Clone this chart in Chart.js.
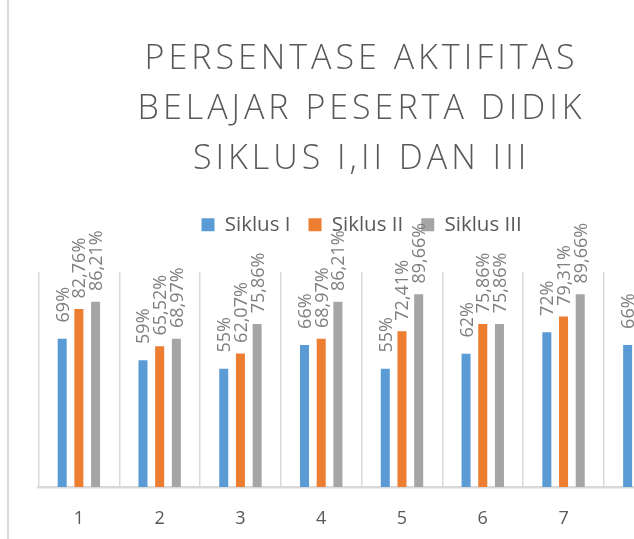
<!DOCTYPE html>
<html>
<head>
<meta charset="utf-8">
<title>Persentase Aktifitas Belajar Peserta Didik</title>
<script src="https://cdn.jsdelivr.net/npm/chart.js@4.4.1/dist/chart.umd.min.js"></script>
<style>
  html, body { margin: 0; padding: 0; background: #fff; overflow: hidden; }
  #frame { position: absolute; left: 7px; top: 0; width: 700px; height: 560px; border-left: 2px solid #d9d9d9; }
</style>
</head>
<body>
<div id="frame"><canvas id="chart" width="700" height="560"></canvas></div>
<script>
// Data
const categories = ["1", "2", "3", "4", "5", "6", "7", "8"];
const siklusI = [69, 59, 55, 66, 55, 62, 72, 66];
// cycle 8 for II and III falls outside the visible crop
const siklusII = [82.76, 65.52, 62.07, 68.97, 72.41, 75.86, 79.31, null];
const siklusIII = [86.21, 68.97, 75.86, 86.21, 89.66, 75.86, 89.66, null];
const seriesNames = ["Siklus I", "Siklus II", "Siklus III"];
const titleLines = ["PERSENTASE AKTIFITAS", "BELAJAR PESERTA DIDIK", "SIKLUS I,II DAN III"];

const FONT = "'Open Sans', 'Liberation Sans', sans-serif";
const TEXT_COLOR = "#595959";
const GRID_COLOR = "#d9d9d9";

function formatPct(v) {
  return (Number.isInteger(v) ? String(v) : v.toFixed(2).replace(".", ",")) + "%";
}

// Vertical value labels above each bar
const barLabels = {
  id: "barLabels",
  afterDatasetsDraw(chart) {
    const ctx = chart.ctx;
    const size = 18;
    ctx.save();
    ctx.font = `${size}px ${FONT}`;
    ctx.fillStyle = "#7f7f7f";
    ctx.textAlign = "center";
    ctx.textBaseline = "alphabetic";
    chart.data.datasets.forEach((ds, i) => {
      chart.getDatasetMeta(i).data.forEach((bar, j) => {
        const v = ds.data[j];
        if (v == null) return;
        const text = formatPct(v);
        const w = ctx.measureText(text).width;
        ctx.save();
        ctx.translate(bar.x + size * 0.36, bar.y - (24 + 0.28 * w));
        ctx.rotate(-Math.PI / 2);
        ctx.fillText(text, 0, 0);
        ctx.restore();
      });
    });
    ctx.restore();
  },
};

// Letter spacing on the title, extra room under the legend
const titleAndLegend = {
  id: "titleAndLegend",
  afterInit(chart) {
    const block = chart.titleBlock;
    const drawTitle = block.draw.bind(block);
    block.draw = function (area) {
      chart.ctx.save();
      chart.ctx.letterSpacing = "4px";
      drawTitle(area);
      chart.ctx.restore();
    };
    const legend = chart.legend;
    const fitLegend = legend.fit.bind(legend);
    legend.fit = function () {
      fitLegend();
      this.height += 27;
    };
  },
};

const chart = new Chart(document.getElementById("chart"), {
  type: "bar",
  data: {
    labels: categories,
    datasets: [
      { label: seriesNames[0], data: siklusI, backgroundColor: "#5B9BD5" },
      { label: seriesNames[1], data: siklusII, backgroundColor: "#ED7D31" },
      { label: seriesNames[2], data: siklusIII, backgroundColor: "#A5A5A5" },
    ],
  },
  options: {
    responsive: false,
    animation: false,
    events: [],
    datasets: {
      bar: { barPercentage: 0.54, categoryPercentage: 0.62 },
    },
    layout: { padding: { left: 29.5, right: 24.3, top: 0, bottom: 10.2 } },
    plugins: {
      title: {
        display: true,
        text: titleLines,
        color: TEXT_COLOR,
        font: { family: FONT, size: 34, weight: "300", lineHeight: 50 / 34 },
        padding: { top: 34, bottom: 12.5 },
      },
      legend: {
        position: "top",
        labels: {
          color: TEXT_COLOR,
          font: { family: FONT, size: 20.5 },
          boxWidth: 13,
          boxHeight: 13,
          padding: 18,
        },
      },
      tooltip: { enabled: false },
    },
    scales: {
      x: {
        grid: { color: GRID_COLOR, lineWidth: 1.5, drawTicks: false, offset: true },
        border: { color: GRID_COLOR, width: 2.5 },
        ticks: { color: TEXT_COLOR, font: { family: FONT, size: 18, lineHeight: 22.8 / 18 }, padding: 20 },
      },
      y: { display: false, min: 0, max: 100 },
    },
  },
  plugins: [barLabels, titleAndLegend],
});
</script>
</body>
</html>
